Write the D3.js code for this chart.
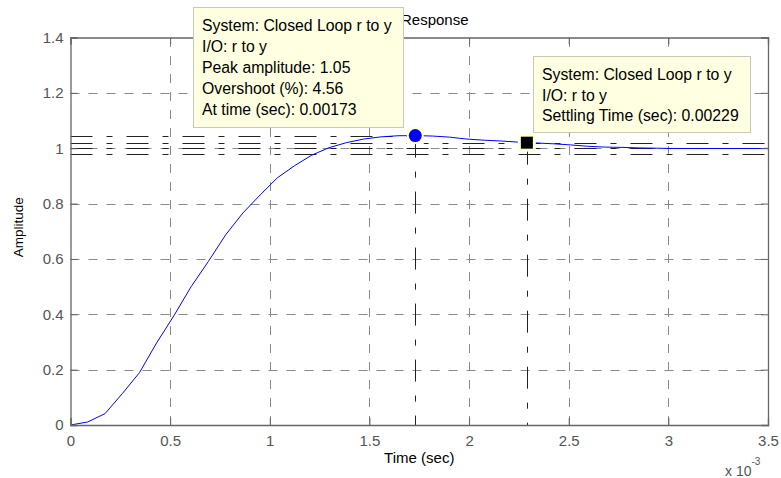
<!DOCTYPE html>
<html>
<head>
<meta charset="utf-8">
<script src="https://cdn.jsdelivr.net/npm/d3@7"></script>
<style>
  body { margin: 0; background: #ffffff; }
  svg { display: block; font-family: "Liberation Sans", Arial, sans-serif; }
</style>
</head>
<body>
<svg id="chart" width="781" height="478"></svg>
<script>
// Closed-loop step response samples (time in ms, amplitude)
const timeMs = [0, 0.0865, 0.173, 0.2595, 0.346, 0.4325, 0.519, 0.6055, 0.692, 0.7785,
  0.865, 0.9515, 1.038, 1.1245, 1.211, 1.2975, 1.384, 1.4705, 1.557, 1.6435,
  1.73, 1.8165, 1.903, 1.9895, 2.076, 2.1625, 2.249, 2.3355, 2.422, 2.5085,
  2.595, 2.6815, 2.768, 2.8545, 2.941, 3.0275, 3.114, 3.2005, 3.287, 3.3735,
  3.46, 3.5465];
const amplitude = [0, 0.011, 0.041, 0.113, 0.189, 0.297, 0.395, 0.500, 0.591, 0.687,
  0.766, 0.831, 0.893, 0.937, 0.975, 1.002, 1.020, 1.033, 1.041, 1.045,
  1.0456, 1.044, 1.040, 1.033, 1.029, 1.026, 1.022, 1.019, 1.016, 1.012,
  1.007, 1.004, 1.003, 1.001, 1.000, 0.999, 0.999, 0.999, 0.999, 0.999,
  0.999, 1.000];

const xTickValues = [0, 0.5, 1, 1.5, 2, 2.5, 3, 3.5];
const yTickValues = [0, 0.2, 0.4, 0.6, 0.8, 1, 1.2, 1.4];

// Step response characteristics
const systemName = "Closed Loop r to y";
const ioName = "r to y";
const peakAmplitude = 1.0456;
const overshootPct = 4.56;
const peakTimeSec = 0.00173;
const settlingTimeSec = 0.00229;
const settlingBand = [0.98, 1.02];
const finalValue = 1;

const svg = d3.select("#chart");
const L = 70.5, R = 768, T = 37.5, B = 425;

const x = d3.scaleLinear().domain([0, 3.5]).range([L, R]);
const y = d3.scaleLinear().domain([0, 1.4]).range([B, T]);

const gridColor = "#8a8a8a";
const axisColor = "#666666";
const labelColor = "#555555";

// Title (partly hidden under the peak data tip)
svg.append("text")
  .attr("x", (L + R) / 2 - 2).attr("y", 25)
  .attr("text-anchor", "middle")
  .attr("font-size", 15).attr("fill", "#000")
  .text("Step Response");

// Grid
const grid = svg.append("g").attr("stroke", gridColor).attr("stroke-width", 1)
  .attr("stroke-dasharray", "9,9");
grid.selectAll("line.vx").data(xTickValues.slice(1, -1)).join("line")
  .attr("x1", d => Math.round(x(d)) + 0.5).attr("x2", d => Math.round(x(d)) + 0.5)
  .attr("y1", B).attr("y2", T);
grid.selectAll("line.hy").data(yTickValues.slice(1, -1)).join("line")
  .attr("y1", d => Math.round(y(d)) + 0.5).attr("y2", d => Math.round(y(d)) + 0.5)
  .attr("x1", L).attr("x2", R);

// Characteristic guide lines
const guides = svg.append("g").attr("stroke", "#222").attr("stroke-width", 1)
  .attr("stroke-dasharray", "22,14,6,14");
const pkX = x(peakTimeSec * 1000), pkY = y(peakAmplitude);
const stX = x(settlingTimeSec * 1000), stY = y(settlingBand[1]);
guides.append("line")
  .attr("x1", L).attr("x2", pkX).attr("y1", Math.round(pkY) + 0.5).attr("y2", Math.round(pkY) + 0.5);
guides.selectAll("line.band").data([settlingBand[0], finalValue, settlingBand[1]]).join("line")
  .attr("x1", L).attr("x2", R)
  .attr("y1", d => Math.round(y(d)) + 0.5).attr("y2", d => Math.round(y(d)) + 0.5);
guides.append("line")
  .attr("x1", Math.round(pkX) + 0.5).attr("x2", Math.round(pkX) + 0.5).attr("y1", pkY).attr("y2", B);
guides.append("line")
  .attr("x1", Math.round(stX) + 0.5).attr("x2", Math.round(stX) + 0.5).attr("y1", stY).attr("y2", B);

// Response curve
svg.append("clipPath").attr("id", "plotClip")
  .append("rect").attr("x", L).attr("y", T).attr("width", R - L).attr("height", B - T);
svg.append("path")
  .datum(timeMs.map((t, i) => [t, amplitude[i]]))
  .attr("clip-path", "url(#plotClip)")
  .attr("fill", "none").attr("stroke", "#0000ff").attr("stroke-width", 1)
  .attr("d", d3.line().x(d => x(d[0])).y(d => y(d[1])));

// Axes
const fmt = d3.format("~g");
const xAxis = svg.append("g").attr("transform", `translate(0,${B})`)
  .call(d3.axisBottom(x).tickValues(xTickValues).tickFormat(fmt).tickSize(-7).tickPadding(10));
const xAxisTop = svg.append("g").attr("transform", `translate(0,${T})`)
  .call(d3.axisTop(x).tickValues(xTickValues).tickFormat("").tickSize(-7));
const yAxis = svg.append("g").attr("transform", `translate(${L},0)`)
  .call(d3.axisLeft(y).tickValues(yTickValues).tickFormat(fmt).tickSize(-7).tickPadding(7));
const yAxisRight = svg.append("g").attr("transform", `translate(${R},0)`)
  .call(d3.axisRight(y).tickValues(yTickValues).tickFormat("").tickSize(-7));
[xAxis, xAxisTop, yAxis, yAxisRight].forEach(g => {
  g.select(".domain").attr("stroke", axisColor).attr("stroke-width", 1.3);
  g.selectAll(".tick line").attr("stroke", axisColor);
  g.selectAll(".tick text").attr("fill", labelColor).attr("font-size", 15)
    .attr("font-family", "'Liberation Sans', Arial, sans-serif");
});

// Axis labels
svg.append("text")
  .attr("x", (L + R) / 2).attr("y", 463)
  .attr("text-anchor", "middle").attr("font-size", 15).attr("fill", "#000")
  .text("Time (sec)");
svg.append("text")
  .attr("transform", `translate(23,${(T + B) / 2 - 4}) rotate(-90)`)
  .attr("text-anchor", "middle").attr("font-size", 13.5).attr("fill", "#000")
  .text("Amplitude");
const expo = svg.append("text").attr("x", 725).attr("y", 476)
  .attr("font-size", 14).attr("fill", labelColor);
expo.append("tspan").text("x 10");
expo.append("tspan").attr("dy", -11).attr("font-size", 10).text("-3");

// Markers
const tipFill = "#ffffe1";
svg.append("rect").attr("x", pkX - 8.5).attr("y", pkY - 8.5).attr("width", 17).attr("height", 17)
  .attr("fill", tipFill);
svg.append("circle").attr("cx", pkX).attr("cy", pkY).attr("r", 6.5).attr("fill", "#0000ff");
svg.append("rect").attr("x", stX - 9).attr("y", stY - 9).attr("width", 18).attr("height", 18)
  .attr("fill", tipFill);
svg.append("rect").attr("x", stX - 6).attr("y", stY - 6).attr("width", 12).attr("height", 12)
  .attr("fill", "#000");

// Data tips
function dataTip(bx, by, w, h, lines, lineGap) {
  const g = svg.append("g");
  g.append("rect").attr("x", bx).attr("y", by).attr("width", w).attr("height", h)
    .attr("fill", tipFill).attr("stroke", "#c9c9b8").attr("stroke-width", 1);
  g.selectAll("text").data(lines).join("text")
    .attr("x", bx + 8.5).attr("y", (d, i) => by + 23.5 + i * lineGap)
    .attr("font-size", 15.8).attr("fill", "#000")
    .text(d => d);
}
dataTip(193.5, 7.5, 210, 120, [
  `System: ${systemName}`,
  `I/O: ${ioName}`,
  `Peak amplitude: ${d3.format(".2f")(peakAmplitude)}`,
  `Overshoot (%): ${overshootPct}`,
  `At time (sec): ${peakTimeSec}`
], 21);
dataTip(533.5, 56.5, 217, 76, [
  `System: ${systemName}`,
  `I/O: ${ioName}`,
  `Settling Time (sec): ${settlingTimeSec}`
], 20.5);
</script>
</body>
</html>
